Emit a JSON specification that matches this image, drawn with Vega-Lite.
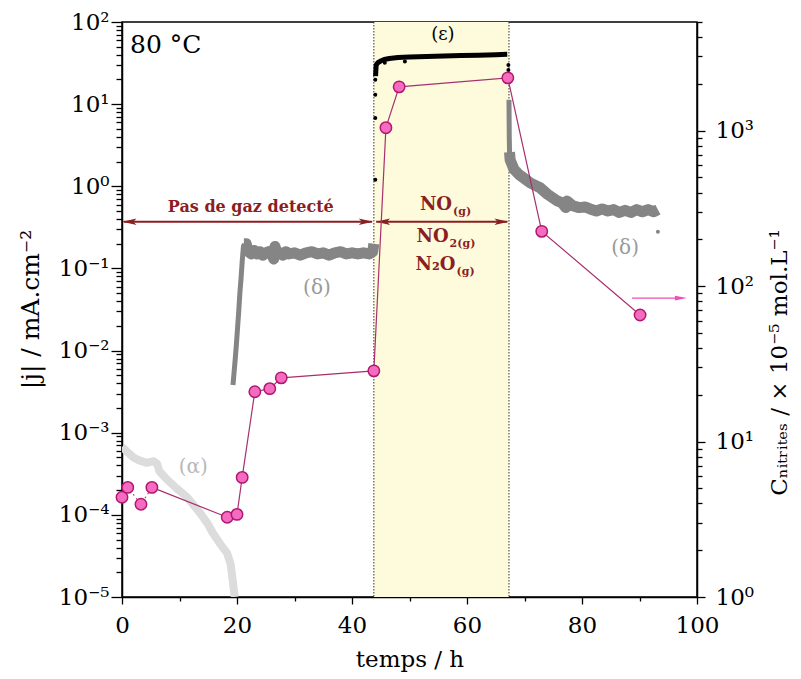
{
  "$schema": "https://vega.github.io/schema/vega-lite/v6.json",
  "width": 575,
  "height": 575,
  "autosize": {"type": "none"},
  "padding": {"left": 122, "top": 22, "right": 104, "bottom": 82},
  "background": "white",
  "config": {
    "font": "DejaVu Serif",
    "text": {"font": "DejaVu Serif"},
    "view": {"stroke": "black", "strokeWidth": 1.5},
    "axis": {"grid": false, "domainColor": "black", "domainWidth": 1.5, "tickColor": "black", "tickWidth": 1.3, "labelColor": "black", "titleColor": "black", "labelFont": "DejaVu Serif", "titleFont": "DejaVu Serif", "titleFontWeight": "normal", "labelOverlap": false, "labelFlush": false, "labelBound": false}
  },
  "datasets": {
    "band": [{"t0": 43.8, "t1": 67.3}],
    "vlines": [{"t": 43.8}, {"t": 67.3}],
    "alpha": [
      {"t": 0, "j": 0.00067}, {"t": 1, "j": 0.00058}, {"t": 2, "j": 0.0005}, {"t": 3, "j": 0.00046}, {"t": 4.3, "j": 0.00043}, {"t": 5.5, "j": 0.00045}, {"t": 6.1, "j": 0.00042}, {"t": 6.5, "j": 0.00034}, {"t": 7.8, "j": 0.00027}, {"t": 9.5, "j": 0.00021}, {"t": 11.3, "j": 0.000165}, {"t": 12.5, "j": 0.00013}, {"t": 13.6, "j": 0.000105}, {"t": 14.8, "j": 0.00008}, {"t": 15.8, "j": 0.00006}, {"t": 17, "j": 0.000045}, {"t": 18.3, "j": 0.000034}, {"t": 18.9, "j": 0.000025}, {"t": 19.3, "j": 0.000015}, {"t": 19.6, "j": 0.00001}
    ],
    "delta1r": [
      {"t": 19.3, "j": 0.0038}, {"t": 19.5, "j": 0.0055}, {"t": 19.7, "j": 0.008}, {"t": 19.9, "j": 0.012}, {"t": 20.1, "j": 0.019}, {"t": 20.3, "j": 0.03}, {"t": 20.5, "j": 0.05}, {"t": 20.7, "j": 0.075}, {"t": 20.9, "j": 0.12}, {"t": 21.1, "j": 0.18}, {"t": 21.3, "j": 0.2}
    ],
    "delta1p": [
      {"t": 21.2, "j": 0.2}, {"t": 21.6, "j": 0.2}, {"t": 22.0, "j": 0.16}, {"t": 22.5, "j": 0.15}, {"t": 23.0, "j": 0.165}, {"t": 23.5, "j": 0.15}, {"t": 24.0, "j": 0.16}, {"t": 24.5, "j": 0.145}, {"t": 25.0, "j": 0.155}, {"t": 25.5, "j": 0.16}, {"t": 26.0, "j": 0.15}, {"t": 26.4, "j": 0.13}, {"t": 26.6, "j": 0.185}, {"t": 26.9, "j": 0.16}, {"t": 27.5, "j": 0.155}, {"t": 28.0, "j": 0.145}, {"t": 28.5, "j": 0.16}, {"t": 29.0, "j": 0.15}, {"t": 30.0, "j": 0.155}, {"t": 31.0, "j": 0.145}, {"t": 32.0, "j": 0.155}, {"t": 33.0, "j": 0.16}, {"t": 34.0, "j": 0.15}, {"t": 35.0, "j": 0.155}, {"t": 36.0, "j": 0.145}, {"t": 37.0, "j": 0.155}, {"t": 38.0, "j": 0.16}, {"t": 39.0, "j": 0.15}, {"t": 40.0, "j": 0.155}, {"t": 41.0, "j": 0.15}, {"t": 42.0, "j": 0.155}, {"t": 43.0, "j": 0.15}, {"t": 43.6, "j": 0.16}, {"t": 43.8, "j": 0.2}
    ],
    "epsline": [
      {"t": 44.1, "j": 22}, {"t": 44.2, "j": 30}, {"t": 44.5, "j": 32}, {"t": 45.0, "j": 33.5}, {"t": 45.6, "j": 35}, {"t": 46.5, "j": 36}, {"t": 48, "j": 37}, {"t": 50, "j": 37.5}, {"t": 53, "j": 38}, {"t": 56, "j": 38.5}, {"t": 59, "j": 39}, {"t": 62, "j": 39.5}, {"t": 65, "j": 40}, {"t": 67.0, "j": 40.5}
    ],
    "epsdots": [
      {"t": 44.05, "j": 1.2}, {"t": 44.05, "j": 6.8}, {"t": 44.05, "j": 13}, {"t": 44.05, "j": 19.8}, {"t": 45.7, "j": 32}, {"t": 49.2, "j": 33}, {"t": 67.2, "j": 30}, {"t": 67.2, "j": 26}
    ],
    "delta2v": [{"t": 67.3, "j": 11.3}, {"t": 67.35, "j": 4}, {"t": 67.4, "j": 2.5}],
    "delta2": [
      {"t": 67.4, "j": 2.6}, {"t": 67.5, "j": 2.1}, {"t": 68.2, "j": 1.6}, {"t": 69.0, "j": 1.4}, {"t": 69.8, "j": 1.27}, {"t": 71.0, "j": 1.1}, {"t": 72.7, "j": 0.96}, {"t": 74.0, "j": 0.8}, {"t": 75.6, "j": 0.67}, {"t": 76.5, "j": 0.63}, {"t": 77.2, "j": 0.55}, {"t": 77.4, "j": 0.66}, {"t": 78.4, "j": 0.58}, {"t": 79.5, "j": 0.55}, {"t": 80.5, "j": 0.56}, {"t": 81.4, "j": 0.53}, {"t": 82.5, "j": 0.5}, {"t": 83.5, "j": 0.53}, {"t": 84.5, "j": 0.5}, {"t": 85.5, "j": 0.52}, {"t": 86.5, "j": 0.48}, {"t": 87.5, "j": 0.51}, {"t": 88.5, "j": 0.48}, {"t": 89.5, "j": 0.52}, {"t": 90.5, "j": 0.49}, {"t": 91.5, "j": 0.52}, {"t": 92.5, "j": 0.49}, {"t": 93.2, "j": 0.52}
    ],
    "delta2dot": [{"t": 93.2, "j": 0.28}],
    "arrows": [{"t0": 0.3, "t1": 43.5, "j": 0.37}, {"t0": 44.2, "t1": 67.0, "j": 0.37}],
    "headsL": [{"t": 1.3, "j": 0.37}, {"t": 45.4, "j": 0.37}],
    "headsR": [{"t": 42.4, "j": 0.37}, {"t": 66.0, "j": 0.37}],
    "tcold": [{"t": 1.4, "j": 52.8, "label": "80 °C"}],
    "teps": [{"t": 55.8, "j": 70, "label": "(ε)"}],
    "tdelta": [{"t": 33.9, "j": 0.058, "label": "(δ)"}, {"t": 87.5, "j": 0.178, "label": "(δ)"}],
    "talpha": [{"t": 12.4, "j": 0.000383, "label": "(α)"}],
    "tpas": [{"t": 22.4, "j": 0.562, "label": "Pas de gaz detecté"}],
    "tchem": [{"t": 57.4, "j": 0.595, "label": "NO"}, {"t": 56.8, "j": 0.2426, "label": "NO"}, {"t": 58.0, "j": 0.1106, "label": "N₂O"}],
    "tchemsub": [{"t": 57.4, "j": 0.595, "label": "(g)"}, {"t": 56.8, "j": 0.2426, "label": "2(g)"}, {"t": 58.0, "j": 0.1106, "label": "(g)"}],
    "pink": [
      {"t": 0.0, "c": 4.38}, {"t": 1.0, "c": 5.07}, {"t": 3.3, "c": 3.95}, {"t": 5.2, "c": 5.07}, {"t": 18.3, "c": 3.26}, {"t": 20.0, "c": 3.4}, {"t": 20.9, "c": 5.88}, {"t": 23.1, "c": 20.9}, {"t": 25.7, "c": 21.9}, {"t": 27.7, "c": 25.7}, {"t": 43.8, "c": 28.5}, {"t": 45.9, "c": 1045}, {"t": 48.2, "c": 1914}, {"t": 67.1, "c": 2186}, {"t": 73.0, "c": 225}, {"t": 90.1, "c": 65.2}
    ],
    "pinkarrow": [{"t0": 88.7, "t1": 96.5, "c": 83.8}],
    "pinkhead": [{"t": 97.2, "c": 83.8}]
  },
  "resolve": {"scale": {"y": "independent"}, "axis": {"y": "independent"}},
  "layer": [
    {
      "layer": [
        {
          "data": {"name": "band"},
          "mark": {"type": "rect", "color": "#fdfbdc"},
          "encoding": {
            "x": {"field": "t0", "type": "quantitative", "scale": {"domain": [0, 100], "nice": false, "zero": false},
              "axis": {"values": [0, 10, 20, 30, 40, 50, 60, 70, 80, 90, 100], "labelExpr": "datum.value % 20 == 0 ? datum.label : ''", "format": "d", "tickSize": {"condition": {"test": "datum.value % 20 == 0", "value": 7}, "value": 4}, "labelFontSize": 23, "labelPadding": 10, "title": "temps / h", "titleFontSize": 23, "titleBaseline": "middle", "titleY": 62}},
            "x2": {"field": "t1"}
          }
        },
        {
          "data": {"name": "alpha"},
          "mark": {"type": "line", "color": "#dcdcdc", "strokeWidth": 8, "strokeJoin": "round", "clip": true},
          "encoding": {
            "x": {"field": "t", "type": "quantitative"},
            "y": {"field": "j", "type": "quantitative", "scale": {"type": "log", "domain": [0.00001, 100], "nice": false},
              "axis": {"orient": "left",
                "values": [0.00001, 0.00002, 0.00003, 0.00004, 0.00005, 0.00006, 0.00007, 0.00008, 0.00009, 0.0001, 0.0002, 0.0003, 0.0004, 0.0005, 0.0006, 0.0007, 0.0008, 0.0009, 0.001, 0.002, 0.003, 0.004, 0.005, 0.006, 0.007, 0.008, 0.009, 0.01, 0.02, 0.03, 0.04, 0.05, 0.06, 0.07, 0.08, 0.09, 0.1, 0.2, 0.3, 0.4, 0.5, 0.6, 0.7, 0.8, 0.9, 1, 2, 3, 4, 5, 6, 7, 8, 9, 10, 20, 30, 40, 50, 60, 70, 80, 90, 100],
                "labelExpr": "abs(log(datum.value)/LN10 - round(log(datum.value)/LN10)) < 0.001 ? '10' + ['⁻⁵','⁻⁴','⁻³','⁻²','⁻¹','⁰','¹','²','³'][round(log(datum.value)/LN10) + 5] : ''",
                "tickSize": {"condition": {"test": "abs(log(datum.value)/LN10 - round(log(datum.value)/LN10)) < 0.001", "value": 11}, "value": 6},
                "labelFontSize": 23, "labelPadding": 2,
                "title": "|j| / mA.cm⁻²", "titleFontSize": 25, "titleAngle": 270, "titleX": -92, "titleY": 287, "titleBaseline": "middle", "titleAlign": "center"}}
          }
        },
        {
          "data": {"name": "vlines"},
          "mark": {"type": "rule", "color": "#333333", "strokeWidth": 1, "strokeDash": [1.5, 1.5]},
          "encoding": {"x": {"field": "t", "type": "quantitative"}}
        },
        {
          "data": {"name": "delta1r"},
          "mark": {"type": "line", "color": "#858585", "strokeWidth": 5, "strokeJoin": "round", "clip": true},
          "encoding": {"x": {"field": "t", "type": "quantitative"}, "y": {"field": "j", "type": "quantitative"}}
        },
        {
          "data": {"name": "delta1p"},
          "mark": {"type": "line", "color": "#858585", "strokeWidth": 11, "strokeJoin": "round", "clip": true},
          "encoding": {"x": {"field": "t", "type": "quantitative"}, "y": {"field": "j", "type": "quantitative"}}
        },
        {
          "data": {"name": "delta2v"},
          "mark": {"type": "line", "color": "#858585", "strokeWidth": 5, "strokeJoin": "round", "clip": true},
          "encoding": {"x": {"field": "t", "type": "quantitative"}, "y": {"field": "j", "type": "quantitative"}}
        },
        {
          "data": {"name": "delta2"},
          "mark": {"type": "line", "color": "#858585", "strokeWidth": 11, "strokeJoin": "round", "clip": true},
          "encoding": {"x": {"field": "t", "type": "quantitative"}, "y": {"field": "j", "type": "quantitative"}}
        },
        {
          "data": {"name": "delta2dot"},
          "mark": {"type": "point", "filled": true, "color": "#858585", "size": 16, "opacity": 1},
          "encoding": {"x": {"field": "t", "type": "quantitative"}, "y": {"field": "j", "type": "quantitative"}}
        },
        {
          "data": {"name": "epsline"},
          "mark": {"type": "line", "color": "black", "strokeWidth": 5, "strokeJoin": "round", "clip": true},
          "encoding": {"x": {"field": "t", "type": "quantitative"}, "y": {"field": "j", "type": "quantitative"}}
        },
        {
          "data": {"name": "epsdots"},
          "mark": {"type": "point", "filled": true, "color": "black", "size": 16, "opacity": 1},
          "encoding": {"x": {"field": "t", "type": "quantitative"}, "y": {"field": "j", "type": "quantitative"}}
        },
        {
          "data": {"name": "arrows"},
          "mark": {"type": "rule", "color": "#8b1e22", "strokeWidth": 2},
          "encoding": {"x": {"field": "t0", "type": "quantitative"}, "x2": {"field": "t1"}, "y": {"field": "j", "type": "quantitative"}}
        },
        {
          "data": {"name": "headsL"},
          "mark": {"type": "point", "filled": true, "color": "#8b1e22", "opacity": 1, "size": 196, "shape": "M-1,0L1,-0.45L0.55,0L1,0.45Z"},
          "encoding": {"x": {"field": "t", "type": "quantitative"}, "y": {"field": "j", "type": "quantitative"}}
        },
        {
          "data": {"name": "headsR"},
          "mark": {"type": "point", "filled": true, "color": "#8b1e22", "opacity": 1, "size": 196, "shape": "M1,0L-1,-0.45L-0.55,0L-1,0.45Z"},
          "encoding": {"x": {"field": "t", "type": "quantitative"}, "y": {"field": "j", "type": "quantitative"}}
        },
        {
          "data": {"name": "tcold"},
          "mark": {"type": "text", "align": "left", "baseline": "middle", "fontSize": 25, "font": "DejaVu Serif", "color": "black"},
          "encoding": {"x": {"field": "t", "type": "quantitative"}, "y": {"field": "j", "type": "quantitative"}, "text": {"field": "label"}}
        },
        {
          "data": {"name": "teps"},
          "mark": {"type": "text", "align": "center", "baseline": "middle", "fontSize": 18, "font": "DejaVu Serif", "color": "black"},
          "encoding": {"x": {"field": "t", "type": "quantitative"}, "y": {"field": "j", "type": "quantitative"}, "text": {"field": "label"}}
        },
        {
          "data": {"name": "tdelta"},
          "mark": {"type": "text", "align": "center", "baseline": "middle", "fontSize": 20, "font": "DejaVu Serif", "color": "#9a9a9a"},
          "encoding": {"x": {"field": "t", "type": "quantitative"}, "y": {"field": "j", "type": "quantitative"}, "text": {"field": "label"}}
        },
        {
          "data": {"name": "talpha"},
          "mark": {"type": "text", "align": "center", "baseline": "middle", "fontSize": 20, "font": "DejaVu Serif", "color": "#b8b8b8"},
          "encoding": {"x": {"field": "t", "type": "quantitative"}, "y": {"field": "j", "type": "quantitative"}, "text": {"field": "label"}}
        },
        {
          "data": {"name": "tpas"},
          "mark": {"type": "text", "align": "center", "baseline": "middle", "fontSize": 16, "fontWeight": "bold", "font": "DejaVu Serif", "color": "#8b1e22"},
          "encoding": {"x": {"field": "t", "type": "quantitative"}, "y": {"field": "j", "type": "quantitative"}, "text": {"field": "label"}}
        },
        {
          "data": {"name": "tchem"},
          "mark": {"type": "text", "align": "right", "baseline": "middle", "fontSize": 18, "fontWeight": "bold", "font": "DejaVu Serif", "color": "#8b1e22"},
          "encoding": {"x": {"field": "t", "type": "quantitative"}, "y": {"field": "j", "type": "quantitative"}, "text": {"field": "label"}}
        },
        {
          "data": {"name": "tchemsub"},
          "mark": {"type": "text", "align": "left", "baseline": "middle", "fontSize": 11, "fontWeight": "bold", "font": "DejaVu Serif", "color": "#8b1e22", "dy": 7, "dx": 1},
          "encoding": {"x": {"field": "t", "type": "quantitative"}, "y": {"field": "j", "type": "quantitative"}, "text": {"field": "label"}}
        }
      ]
    },
    {
      "layer": [
        {
          "data": {"name": "pink"},
          "transform": [{"filter": "datum.t <= 5.5"}],
          "mark": {"type": "line", "color": "#c2508f", "strokeWidth": 1.2, "strokeDash": [2, 3]},
          "encoding": {
            "x": {"field": "t", "type": "quantitative"},
            "y": {"field": "c", "type": "quantitative", "scale": {"type": "log", "domain": [1, 5000], "nice": false},
              "axis": {"orient": "right",
                "values": [1, 2, 3, 4, 5, 6, 7, 8, 9, 10, 20, 30, 40, 50, 60, 70, 80, 90, 100, 200, 300, 400, 500, 600, 700, 800, 900, 1000, 2000, 3000, 4000, 5000],
                "labelExpr": "abs(log(datum.value)/LN10 - round(log(datum.value)/LN10)) < 0.001 ? '10' + ['⁻⁵','⁻⁴','⁻³','⁻²','⁻¹','⁰','¹','²','³'][round(log(datum.value)/LN10) + 5] : ''",
                "tickSize": {"condition": {"test": "abs(log(datum.value)/LN10 - round(log(datum.value)/LN10)) < 0.001", "value": 8}, "value": 5},
                "labelFontSize": 23, "labelPadding": 10,
                "title": "Cₙᵢₜᵣᵢₜₑₛ / × 10⁻⁵ mol.L⁻¹", "titleFontSize": 23, "titleAngle": 270, "titleX": 82, "titleY": 340, "titleBaseline": "middle", "titleAlign": "center"}}
          }
        },
        {
          "data": {"name": "pink"},
          "transform": [{"filter": "datum.t >= 5"}],
          "mark": {"type": "line", "color": "#a8306f", "strokeWidth": 1.2},
          "encoding": {"x": {"field": "t", "type": "quantitative"}, "y": {"field": "c", "type": "quantitative"}}
        },
        {
          "data": {"name": "pink"},
          "mark": {"type": "point", "filled": true, "fill": "#f56bc0", "stroke": "#b0176f", "strokeWidth": 1.5, "size": 130, "opacity": 1},
          "encoding": {"x": {"field": "t", "type": "quantitative"}, "y": {"field": "c", "type": "quantitative"}}
        },
        {
          "data": {"name": "pinkarrow"},
          "mark": {"type": "rule", "color": "#ee4fb5", "strokeWidth": 1.3},
          "encoding": {"x": {"field": "t0", "type": "quantitative"}, "x2": {"field": "t1"}, "y": {"field": "c", "type": "quantitative"}}
        },
        {
          "data": {"name": "pinkhead"},
          "mark": {"type": "point", "filled": true, "color": "#ee4fb5", "opacity": 1, "size": 144, "shape": "M1,0L-1,-0.4L-1,0.4Z"},
          "encoding": {"x": {"field": "t", "type": "quantitative"}, "y": {"field": "c", "type": "quantitative"}}
        }
      ]
    }
  ]
}
